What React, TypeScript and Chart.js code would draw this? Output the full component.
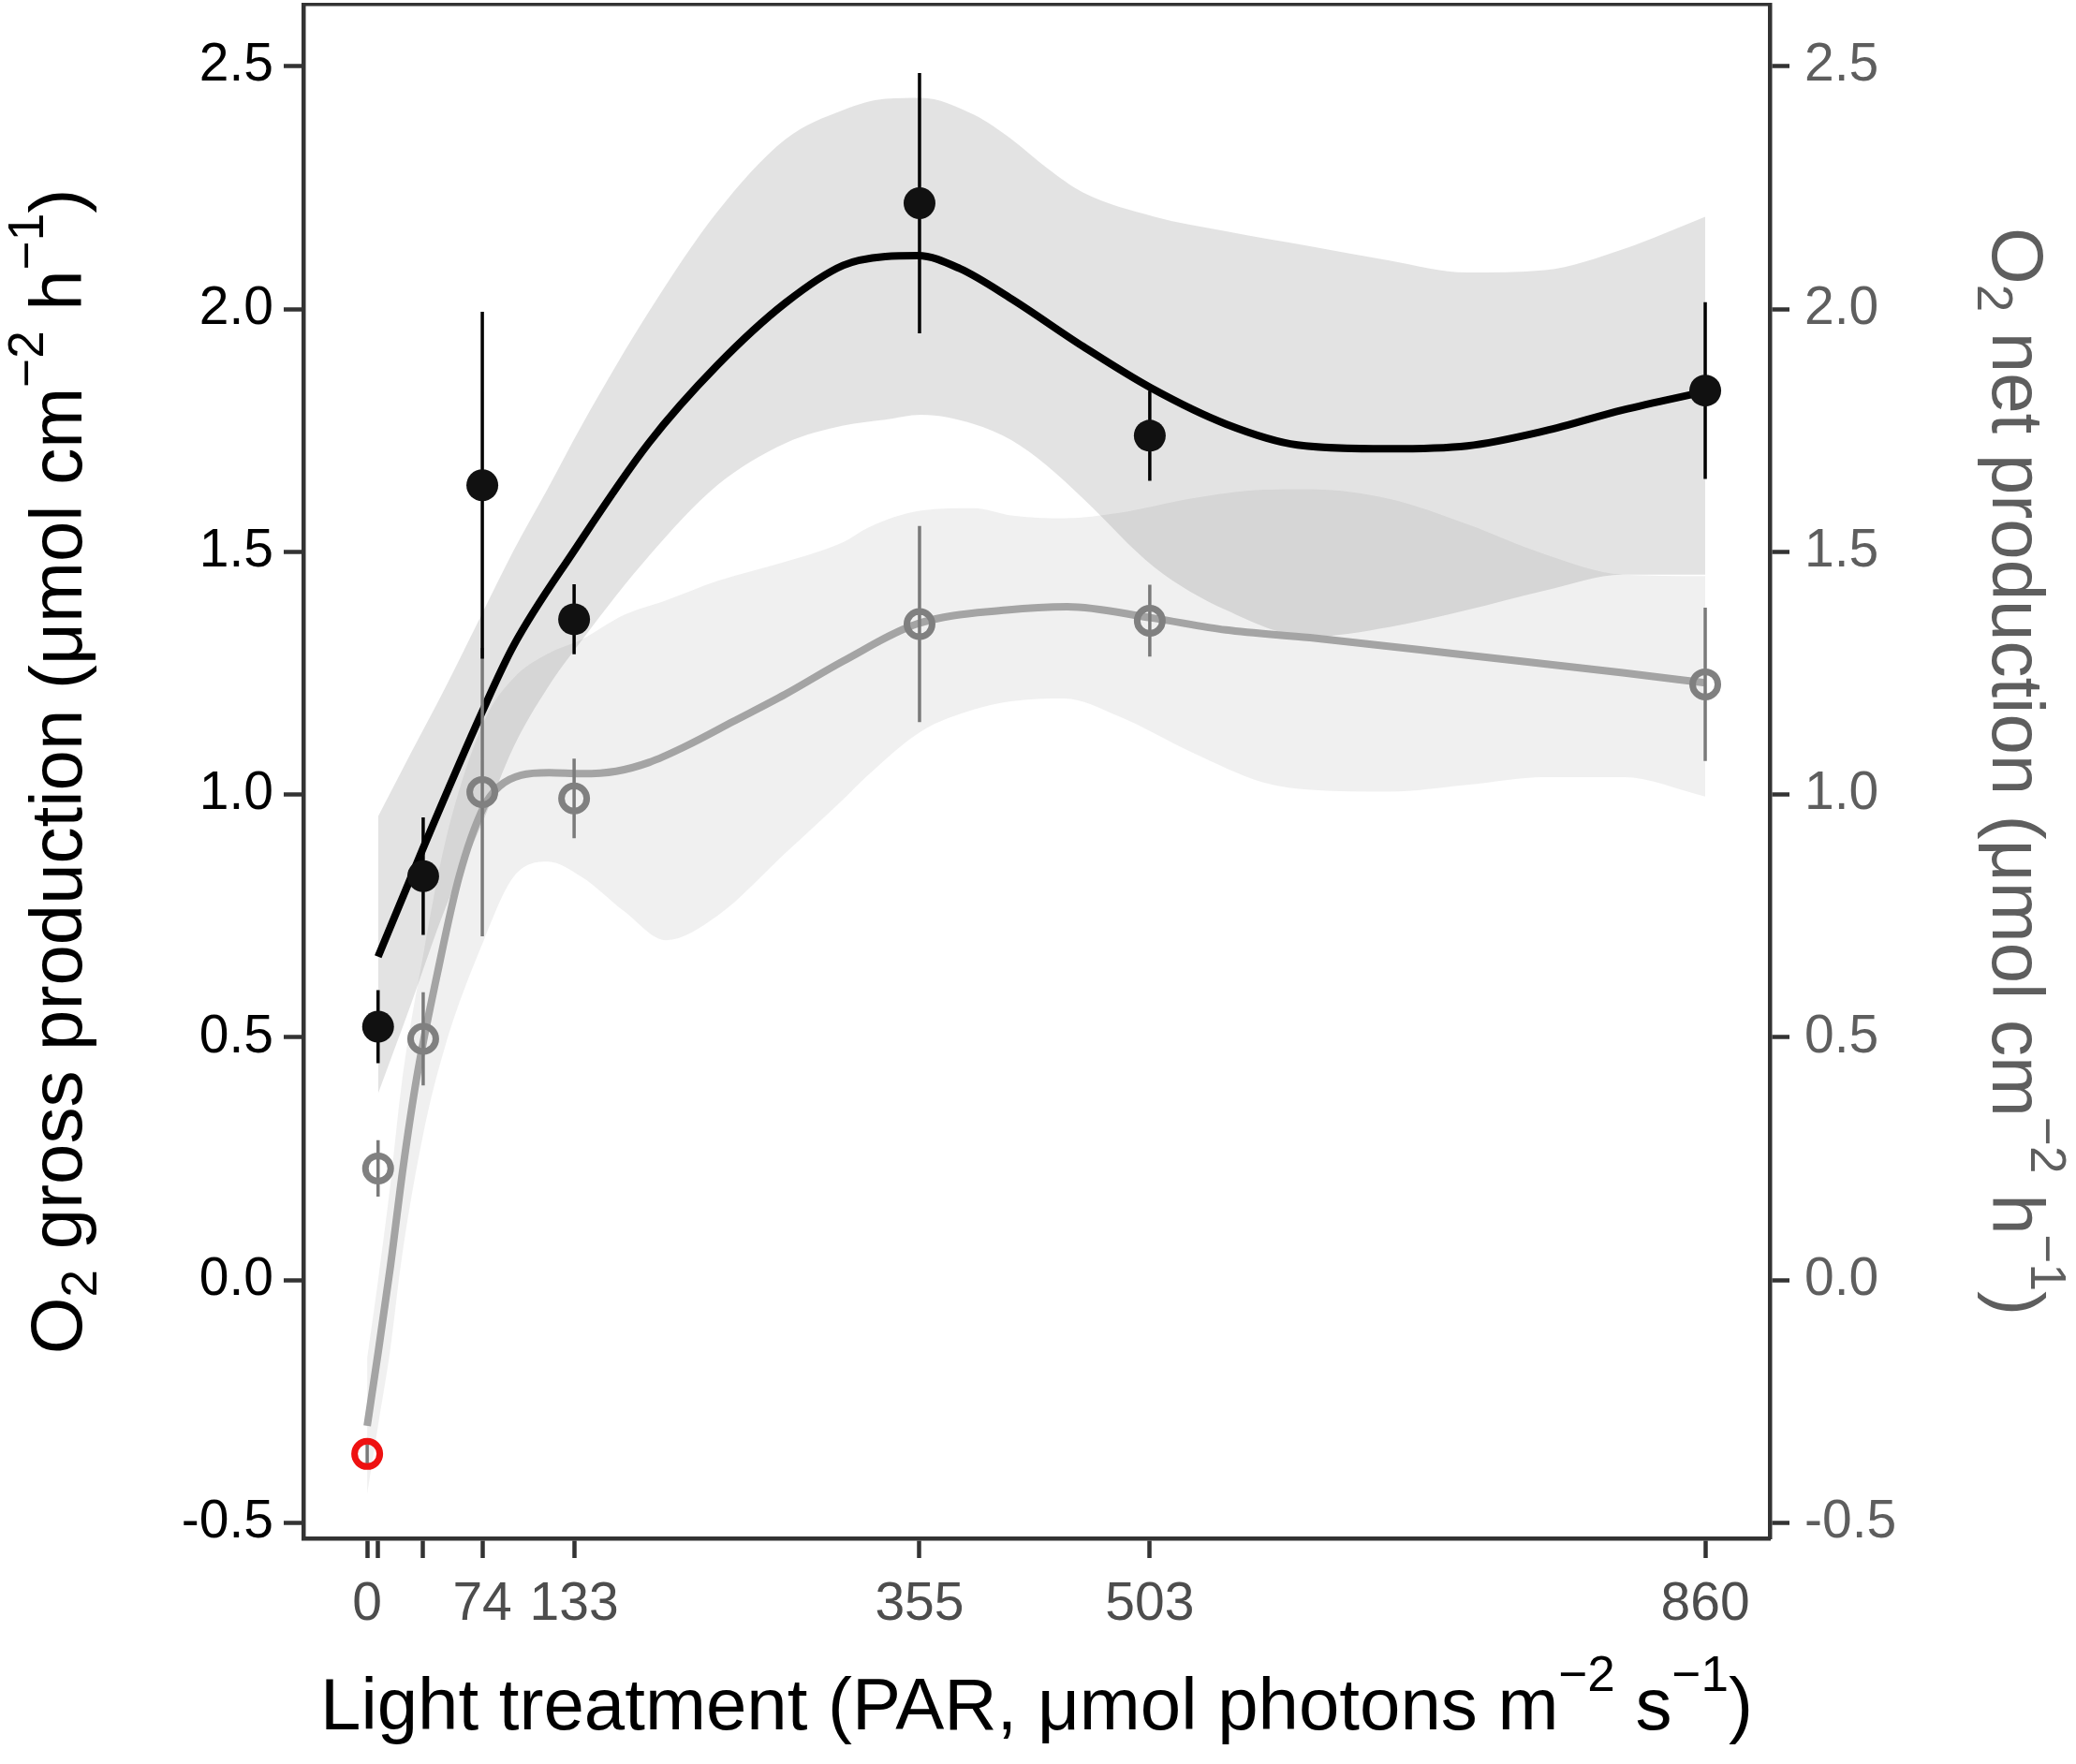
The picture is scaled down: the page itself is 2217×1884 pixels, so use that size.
import React, { useEffect, useRef } from "react";
import { Chart, registerables } from "chart.js";

Chart.register(...registerables);

const W = 2217;
const H = 1884;
const FONT = "'Liberation Sans', Arial, sans-serif";

// ---- axes ----
const xTicks = [0, 7, 36, 74, 133, 355, 503, 860];
const xTickLabels = ["0", "", "", "74", "133", "355", "503", "860"];
const yTicks = [-0.5, 0, 0.5, 1, 1.5, 2, 2.5];
const yTickLabels = ["-0.5", "0.0", "0.5", "1.0", "1.5", "2.0", "2.5"];

// ---- measured points (light levels, PAR) ----
const parLevels = [7, 36, 74, 133, 355, 503, 860];
const grossMean = [0.522, 0.832, 1.637, 1.361, 2.218, 1.739, 1.832];
const grossSE = [0.075, 0.121, 0.357, 0.072, 0.268, 0.093, 0.182];
const netMean = [0.23, 0.497, 1.005, 0.992, 1.351, 1.358, 1.227];
const netSE = [0.058, 0.096, 0.297, 0.082, 0.202, 0.074, 0.158];
const darkPAR = [0];
const darkNet = [-0.358];
const darkSE = [0.02];

// ---- fitted curves ----
const grossCurveX = [7, 36, 74, 94, 133, 181, 225, 269, 306, 333, 354, 381, 414, 460, 504, 552, 598, 656, 707, 757, 807, 860];
const grossCurveY = [0.666, 0.89, 1.171, 1.306, 1.502, 1.724, 1.884, 2.013, 2.09, 2.108, 2.11, 2.083, 2.021, 1.923, 1.837, 1.763, 1.72, 1.712, 1.718, 1.749, 1.792, 1.83];
const netCurveX = [0, 7, 15, 23, 32, 45, 59, 75, 85, 99, 117, 138, 160, 181, 205, 235, 269, 306, 354, 411, 450, 504, 552, 606, 707, 807, 860];
const netCurveY = [-0.3, -0.15, 0.03, 0.23, 0.42, 0.63, 0.83, 0.975, 1.017, 1.04, 1.045, 1.043, 1.048, 1.066, 1.1, 1.15, 1.207, 1.275, 1.352, 1.38, 1.387, 1.364, 1.339, 1.323, 1.287, 1.251, 1.23];

// ---- confidence bands ----
const grossBandX = [7, 28, 50, 75, 94, 116, 138, 181, 225, 269, 306, 333, 356, 390, 414, 437, 460, 506, 552, 606, 657, 707, 757, 807, 860];
const grossBandHi = [0.955, 1.085, 1.219, 1.38, 1.502, 1.63, 1.761, 1.994, 2.2, 2.35, 2.41, 2.433, 2.435, 2.4, 2.35, 2.29, 2.24, 2.19, 2.16, 2.129, 2.1, 2.075, 2.08, 2.123, 2.19];
const grossBandLo = [0.384, 0.567, 0.764, 0.949, 1.097, 1.22, 1.318, 1.491, 1.637, 1.724, 1.76, 1.772, 1.782, 1.763, 1.73, 1.677, 1.61, 1.468, 1.38, 1.325, 1.345, 1.38, 1.42, 1.453, 1.453];
const netBandX = [0, 7, 15, 22, 36, 50, 75, 94, 116, 138, 165, 192, 225, 269, 306, 322, 356, 390, 414, 448, 483, 530, 576, 606, 657, 707, 757, 807, 860];
const netBandHi = [-0.16, 0.0, 0.2, 0.4, 0.67, 0.9, 1.15, 1.24, 1.29, 1.32, 1.37, 1.4, 1.44, 1.48, 1.52, 1.55, 1.585, 1.59, 1.575, 1.569, 1.58, 1.61, 1.628, 1.629, 1.609, 1.557, 1.495, 1.453, 1.45];
const netBandLo = [-0.44, -0.3, -0.14, 0.04, 0.3, 0.48, 0.7, 0.83, 0.862, 0.83, 0.76, 0.7, 0.75, 0.88, 0.99, 1.04, 1.13, 1.175, 1.192, 1.198, 1.161, 1.087, 1.025, 1.01, 1.006, 1.02, 1.036, 1.036, 0.996];

// ---- titles ----
type Seg = { t: string; k?: number; dy?: number };
const xTitle: Seg[] = [
  { t: "Light treatment (PAR, \u03bcmol photons m" },
  { t: "\u22122", k: 0.68, dy: -0.52 },
  { t: " s" },
  { t: "\u22121", k: 0.68, dy: -0.52 },
  { t: ")" },
];
const yLeftTitle: Seg[] = [
  { t: "O" },
  { t: "2", k: 0.68, dy: 0.2 },
  { t: " gross production (\u03bcmol cm" },
  { t: "\u22122", k: 0.68, dy: -0.52 },
  { t: " h" },
  { t: "\u22121", k: 0.68, dy: -0.52 },
  { t: ")" },
];
const yRightTitle: Seg[] = [
  { t: "O" },
  { t: "2", k: 0.68, dy: 0.2 },
  { t: " net production (\u03bcmol cm" },
  { t: "\u22122", k: 0.68, dy: -0.52 },
  { t: " h" },
  { t: "\u22121", k: 0.68, dy: -0.52 },
  { t: ")" },
];

function drawRich(ctx: CanvasRenderingContext2D, segs: Seg[], x: number, y: number, angle: number, size: number, color: string) {
  ctx.save();
  ctx.translate(x, y);
  ctx.rotate(angle);
  ctx.fillStyle = color;
  ctx.textBaseline = "alphabetic";
  ctx.textAlign = "left";
  const widths = segs.map((s) => {
    ctx.font = `${size * (s.k || 1)}px ${FONT}`;
    return ctx.measureText(s.t).width;
  });
  const total = widths.reduce((a, b) => a + b, 0);
  let cx = -total / 2;
  segs.forEach((s, i) => {
    ctx.font = `${size * (s.k || 1)}px ${FONT}`;
    ctx.fillText(s.t, cx, (s.dy || 0) * size);
    cx += widths[i];
  });
  ctx.restore();
}

const titlePlugin = {
  id: "richTitles",
  afterDraw(chart: any) {
    const ctx = chart.ctx as CanvasRenderingContext2D;
    const a = chart.chartArea;
    const cx = (a.left + a.right) / 2;
    const cy = (a.top + a.bottom) / 2;
    drawRich(ctx, xTitle, cx, 1847, 0, 78, "#000000");
    drawRich(ctx, yLeftTitle, 87, cy, -Math.PI / 2, 78, "#000000");
    drawRich(ctx, yRightTitle, 2128, cy, Math.PI / 2, 78, "#5e5e5e");
  },
};

const pts = (xs: number[], ys: number[]) => xs.map((x, i) => ({ x, y: ys[i] }));
const bars = (xs: number[], m: number[], se: number[]) =>
  xs.flatMap((x, i) => [
    { x, y: m[i] - se[i] },
    { x, y: m[i] + se[i] },
    { x, y: null as any },
  ]);

const X_MIN = -41;
const X_MAX = 901.5;
const Y_MIN = -0.5318;
const Y_MAX = 2.6267;

const tickFont = { family: FONT, size: 57 };
const gridOpts = {
  display: true,
  drawOnChartArea: false,
  drawTicks: true,
  tickLength: 21,
  tickWidth: 4.5,
  tickColor: "#333333",
};
const borderOpts = { display: true, width: 4.5, color: "#333333" };

const noPad = (s: any) => {
  s.paddingTop = 0;
  s.paddingBottom = 0;
  s.paddingLeft = 0;
  s.paddingRight = 0;
};

export default function App() {
  const ref = useRef<HTMLCanvasElement>(null);
  useEffect(() => {
    const common = { xAxisID: "x", yAxisID: "y", pointRadius: 0, pointHoverRadius: 0 };
    const chart = new Chart(ref.current as HTMLCanvasElement, {
      type: "line",
      data: {
        datasets: [
          // gross band
          { ...common, data: pts(grossBandX, grossBandHi), borderWidth: 0, borderColor: "transparent", fill: "+1", backgroundColor: "rgba(0,0,0,0.11)", cubicInterpolationMode: "monotone", order: 20 },
          { ...common, data: pts(grossBandX, grossBandLo), borderWidth: 0, borderColor: "transparent", fill: false, cubicInterpolationMode: "monotone", order: 20 },
          // net band
          { ...common, data: pts(netBandX, netBandHi), borderWidth: 0, borderColor: "transparent", fill: "+1", backgroundColor: "rgba(0,0,0,0.06)", cubicInterpolationMode: "monotone", order: 19 },
          { ...common, data: pts(netBandX, netBandLo), borderWidth: 0, borderColor: "transparent", fill: false, cubicInterpolationMode: "monotone", order: 19 },
          // curves
          { ...common, data: pts(netCurveX, netCurveY), borderWidth: 8, borderColor: "#a4a4a4", fill: false, cubicInterpolationMode: "monotone", borderCapStyle: "butt", order: 10 },
          { ...common, data: pts(grossCurveX, grossCurveY), borderWidth: 8, borderColor: "#000000", fill: false, cubicInterpolationMode: "monotone", borderCapStyle: "butt", order: 9 },
          // error bars
          { ...common, data: bars([...darkPAR, ...parLevels], [...darkNet, ...netMean], [...darkSE, ...netSE]), borderWidth: 3.5, borderColor: "#7a7a7a", fill: false, spanGaps: false, tension: 0, order: 6 },
          { ...common, data: bars(parLevels, grossMean, grossSE), borderWidth: 3.5, borderColor: "#000000", fill: false, spanGaps: false, tension: 0, order: 5 },
          // points
          { ...common, data: pts(parLevels, netMean), showLine: false, pointRadius: 13.5, pointBorderWidth: 7, pointBorderColor: "#808080", pointBackgroundColor: "rgba(0,0,0,0)", order: 3 },
          { ...common, data: pts(darkPAR, darkNet), showLine: false, pointRadius: 13.5, pointBorderWidth: 7, pointBorderColor: "#ee1111", pointBackgroundColor: "rgba(0,0,0,0)", order: 2 },
          { ...common, data: pts(parLevels, grossMean), showLine: false, pointRadius: 17, pointBorderWidth: 0, pointBorderColor: "#111111", pointBackgroundColor: "#111111", order: 1 },
        ] as any,
      },
      options: {
        responsive: false,
        animation: false,
        devicePixelRatio: 1,
        events: [],
        layout: { padding: 0, autoPadding: false },
        plugins: { legend: { display: false }, tooltip: { enabled: false } },
        scales: {
          x: {
            type: "linear",
            position: "bottom",
            min: X_MIN,
            max: X_MAX,
            afterBuildTicks: (s: any) => {
              s.ticks = xTicks.map((v) => ({ value: v }));
            },
            afterFit: (s: any) => {
              s.height = 241;
              noPad(s);
            },
            ticks: {
              autoSkip: false,
              maxRotation: 0,
              minRotation: 0,
              padding: 16,
              color: "#4d4d4d",
              font: tickFont,
              callback: (v: any) => {
                const i = xTicks.indexOf(Number(v));
                return i >= 0 ? xTickLabels[i] : "";
              },
            },
            grid: gridOpts,
            border: borderOpts,
          },
          xTop: {
            type: "linear",
            position: "top",
            min: X_MIN,
            max: X_MAX,
            ticks: { display: false },
            grid: { display: false },
            border: { display: true, width: 3.5, color: "#333333" },
            afterFit: (s: any) => {
              s.height = 5;
              noPad(s);
            },
          },
          y: {
            type: "linear",
            position: "left",
            min: Y_MIN,
            max: Y_MAX,
            afterBuildTicks: (s: any) => {
              s.ticks = yTicks.map((v) => ({ value: v }));
            },
            afterFit: (s: any) => {
              s.width = 324;
              noPad(s);
            },
            ticks: {
              padding: 11,
              color: "#000000",
              font: tickFont,
              callback: (v: any) => {
                const i = yTicks.indexOf(Number(v));
                return i >= 0 ? yTickLabels[i] : "";
              },
            },
            grid: gridOpts,
            border: borderOpts,
          },
          y2: {
            type: "linear",
            position: "right",
            min: Y_MIN,
            max: Y_MAX,
            afterBuildTicks: (s: any) => {
              s.ticks = yTicks.map((v) => ({ value: v }));
            },
            afterFit: (s: any) => {
              s.width = 327;
              noPad(s);
            },
            ticks: {
              padding: 16,
              color: "#5e5e5e",
              font: tickFont,
              callback: (v: any) => {
                const i = yTicks.indexOf(Number(v));
                return i >= 0 ? yTickLabels[i] : "";
              },
            },
            grid: gridOpts,
            border: borderOpts,
          },
        } as any,
      },
      plugins: [titlePlugin],
    });
    return () => chart.destroy();
  }, []);

  return (
    <div style={{ position: "fixed", left: 0, top: 0, width: W, height: H, background: "#ffffff" }}>
      <canvas ref={ref} width={W} height={H} style={{ width: W, height: H, display: "block" }} />
    </div>
  );
}
